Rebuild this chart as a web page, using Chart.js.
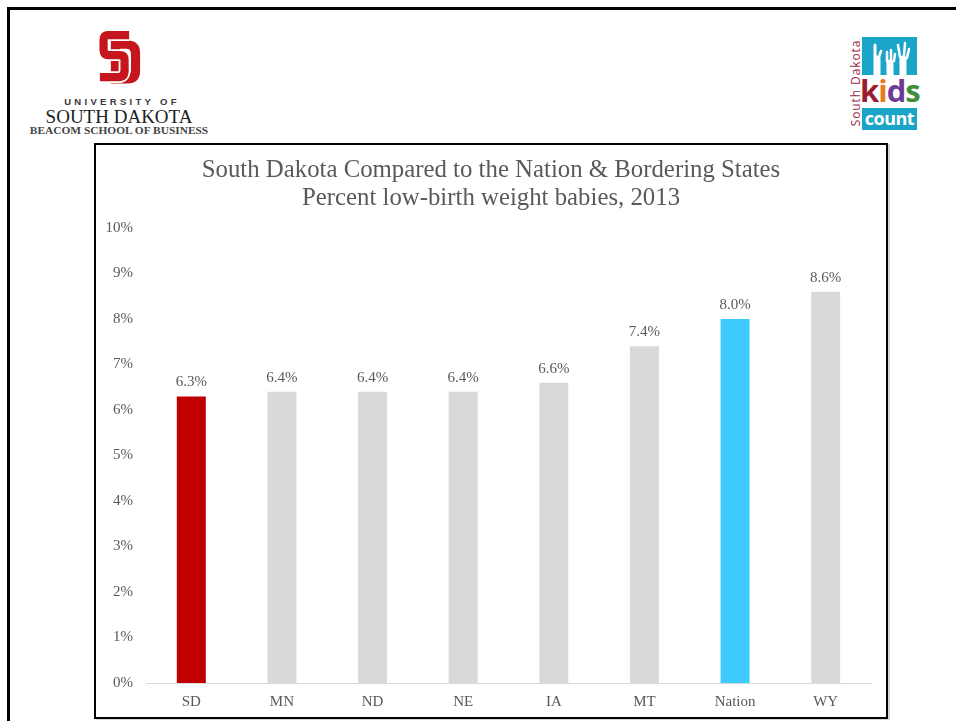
<!DOCTYPE html>
<html>
<head>
<meta charset="utf-8">
<script src="https://cdn.jsdelivr.net/npm/chart.js@4.4.1/dist/chart.umd.min.js"></script>
<style>
  html, body { margin: 0; padding: 0; background: #fff; }
  #slide { position: relative; width: 956px; height: 721px; overflow: hidden; background: #fff; }
  .edgeTop { position: absolute; left: 7px; top: 7px; width: 949px; height: 3px; background: #000; }
  .edgeLeft { position: absolute; left: 7px; top: 7px; width: 3px; height: 714px; background: #000; }
  #chartBox {
    position: absolute; left: 94px; top: 143px; width: 794px; height: 576px;
    box-sizing: border-box; border: 2px solid #000; box-shadow: 2px 1px 0 #d6d6d6; background: #fff;
  }
  #chartWrap { position: absolute; left: 0; top: 0; width: 790px; height: 572px; }
  .usd { position: absolute; white-space: nowrap; text-align: center; }
  #usdUniv { left: 19px; top: 96px; width: 200px; font: bold 9.5px "Liberation Sans", Arial, sans-serif; letter-spacing: 3.3px; padding-left: 3px; color: #3a3a3a; }
  #usdSouth { left: 19px; top: 106px; width: 200px; font: 19px "Liberation Serif", serif; color: #222; }
  #usdBeacom { left: 19px; top: 124px; width: 200px; font: bold 11.4px "Liberation Serif", serif; color: #444; }
  #kcBox { position: absolute; left: 862px; top: 37px; width: 55px; height: 38px; background: #1aa5c8; }
  #kcKids { position: absolute; left: 860px; top: 70px; width: 59px; text-align: center; font: bold 31px "Open Sans", sans-serif; letter-spacing: -1px; line-height: 40px; }
  #kcCount { position: absolute; left: 862px; top: 108px; width: 55px; height: 22px; background: #1aa5c8; color: #fff; text-align: center; font: bold 18px "Open Sans", sans-serif; line-height: 20px; letter-spacing: -0.5px; }
  #kcSD { position: absolute; left: 806px; top: 76px; width: 95px; height: 14px; line-height: 14px; text-align: center; transform: rotate(-90deg); font: 12px "Open Sans", sans-serif; letter-spacing: 0.9px; color: #9b2c4f; white-space: nowrap; }
</style>
</head>
<body>
<div id="slide">
  <div class="edgeTop"></div>
  <div class="edgeLeft"></div>

  <!-- USD logo -->
  <svg style="position:absolute;left:99px;top:30px" width="42" height="54" viewBox="0 0 46 58">
    <path fill="#c4161c" fill-rule="evenodd"
      d="M13 11 H31 Q45 11 45 25 V44 Q45 58 31 58 H13 Z M23 20 H30 Q35 20 35 26 V43 Q35 49 30 49 H23 Z"/>
    <path fill="none" stroke="#fff" stroke-width="13" stroke-linejoin="miter"
      d="M33 5 H9 Q5 5 5 10 V21 Q5 27 11 27 H23 Q28 27 28 32 V44 Q28 51 21 51 H1"/>
    <path fill="none" stroke="#c4161c" stroke-width="9" stroke-linejoin="miter"
      d="M33 5 H9 Q5 5 5 10 V21 Q5 27 11 27 H23 Q28 27 28 32 V44 Q28 51 21 51 H1"/>
  </svg>
  <div class="usd" id="usdUniv">UNIVERSITY OF</div>
  <div class="usd" id="usdSouth">SOUTH DAKOTA</div>
  <div class="usd" id="usdBeacom">BEACOM SCHOOL OF BUSINESS</div>

  <!-- Kids Count logo -->
  <div id="kcBox">
    <svg width="55" height="38" viewBox="0 0 55 38">
      <g stroke="#fff" stroke-linecap="round" fill="none">
        <path d="M15 38 V22" stroke-width="7"/>
        <path d="M13 20 V8" stroke-width="3"/>
        <path d="M17 20 L19 14" stroke-width="2.5"/>
        <path d="M28 38 V26" stroke-width="7"/>
        <path d="M25 24 V15" stroke-width="2.5"/>
        <path d="M29 23 V13" stroke-width="2.5"/>
        <path d="M32 24 L33 17" stroke-width="2.5"/>
        <path d="M41 38 V22" stroke-width="7"/>
        <path d="M38 20 L36 8" stroke-width="2.5"/>
        <path d="M42 19 L43 6" stroke-width="2.5"/>
        <path d="M45 21 L47 12" stroke-width="2.5"/>
      </g>
    </svg>
  </div>
  <div id="kcKids"><span style="color:#9b1b30">k</span><span style="color:#e87a1e">i</span><span style="color:#6f3a96">d</span><span style="color:#3e8e3a">s</span></div>
  <div id="kcCount">count</div>
  <div id="kcSD">South Dakota</div>

  <div id="chartBox">
    <div id="chartWrap"><canvas id="lbwChart"></canvas></div>
  </div>
</div>

<script>
// Data
const states = ['SD', 'MN', 'ND', 'NE', 'IA', 'MT', 'Nation', 'WY'];
const lowBirthWeight = [6.3, 6.4, 6.4, 6.4, 6.6, 7.4, 8.0, 8.6];
const yTicks = [0, 1, 2, 3, 4, 5, 6, 7, 8, 9, 10];
const titleLines = ['South Dakota Compared to the Nation & Bordering States', 'Percent low-birth weight babies, 2013'];

const textColor = '#595959';
const serif = '"Liberation Serif", "Times New Roman", serif';

// highlight SD and the national figure
const barColors = states.map(s => s === 'SD' ? '#c00000' : (s === 'Nation' ? '#3dcbff' : '#d9d9d9'));

// value labels above each bar
const valueLabels = {
    id: 'valueLabels',
    afterDatasetsDraw(chart) {
        const ctx = chart.ctx;
        const meta = chart.getDatasetMeta(0);
        ctx.save();
        ctx.font = '15px ' + serif;
        ctx.fillStyle = textColor;
        ctx.textAlign = 'center';
        ctx.textBaseline = 'middle';
        meta.data.forEach((bar, i) => {
            ctx.fillText(lowBirthWeight[i].toFixed(1) + '%', bar.x, bar.y - 14);
        });
        ctx.restore();
    }
};

new Chart(document.getElementById('lbwChart'), {
    type: 'bar',
    data: {
        labels: states,
        datasets: [{
            data: lowBirthWeight,
            backgroundColor: barColors,
            borderWidth: 0,
            categoryPercentage: 1,
            barPercentage: 0.32
        }]
    },
    options: {
        responsive: true,
        maintainAspectRatio: false,
        animation: false,
        layout: { padding: 0 },
        plugins: {
            legend: { display: false },
            tooltip: { enabled: false },
            title: {
                display: true,
                text: titleLines,
                color: textColor,
                font: { family: serif, size: 24.8, weight: 'normal', lineHeight: 1.13 },
                padding: { top: 11, bottom: 16 }
            }
        },
        scales: {
            x: {
                grid: { display: false, drawTicks: false },
                border: { display: true, color: '#d9d9d9', width: 1 },
                ticks: { color: textColor, font: { family: serif, size: 15 }, padding: 10 },
                afterFit(scale) { scale.height = 34; }
            },
            y: {
                min: 0,
                max: 10,
                grid: { display: false, drawTicks: false },
                border: { display: false },
                afterBuildTicks(scale) { scale.ticks = yTicks.map(v => ({ value: v })); },
                ticks: {
                    color: textColor,
                    font: { family: serif, size: 15 },
                    padding: 13,
                    callback: v => v + '%'
                },
                afterFit(scale) { scale.width = 50; }
            },
            // empty right gutter so the plot stops short of the box edge
            gutter: {
                position: 'right',
                grid: { display: false, drawTicks: false },
                border: { display: false },
                ticks: { display: false },
                afterFit(scale) { scale.width = 15; }
            }
        }
    },
    plugins: [valueLabels]
});
</script>
</body>
</html>
